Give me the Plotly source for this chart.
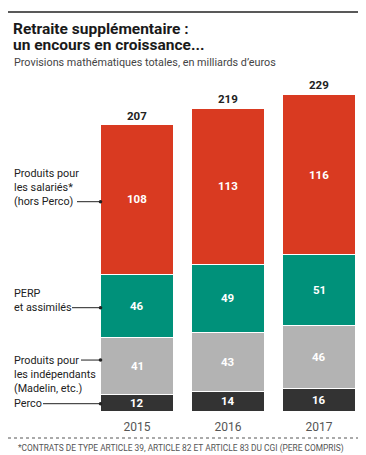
import plotly.graph_objects as go

years = ["2015", "2016", "2017"]
perco = [12, 14, 16]
independants = [41, 43, 46]
perp = [46, 49, 51]
salaries = [108, 113, 116]
totals = [207, 219, 229]

series = [
    ("Perco", perco, "#333333"),
    ("Produits pour les indépendants", independants, "#b3b3b3"),
    ("PERP et assimilés", perp, "#00917a"),
    ("Produits pour les salariés", salaries, "#d93a21"),
]

left_labels = [
    "Perco",
    "Produits pour<br>les indépendants<br>(Madelin, etc.)",
    "PERP<br>et assimilés",
    "Produits pour<br>les salariés*<br>(hors Perco)",
]

# page body has an 8px margin: size the figure to the visible area
OFF = 8
W, H = 366 - OFF, 455 - OFF
MT, MB = 80 - OFF, 455 - 411
PH = H - MT - MB
FONT = "Roboto"
xs = [0, 1, 2]
SCALE = 1.383  # px per unit


def px(p):
    return (p - OFF) / W


def py(p):
    return (H - MB - (p - OFF)) / PH


fig = go.Figure()
for name, vals, col in series:
    fig.add_trace(go.Bar(
        x=xs, y=vals, name=name, width=0.8,
        marker=dict(color=col, line=dict(color="white", width=1)),
        hoverinfo="skip", showlegend=False,
    ))

# segment labels
base = [0, 0, 0]
mids_2015 = []
for name, vals, col in series:
    for i in range(3):
        mid = base[i] + vals[i] / 2
        fig.add_annotation(x=xs[i], y=mid, text=f"<b>{vals[i]}</b>", showarrow=False,
                           font=dict(family=FONT, size=11.5, color="white"))
    mids_2015.append(base[0] + vals[0] / 2)
    base = [base[i] + vals[i] for i in range(3)]

# totals
for i in range(3):
    fig.add_annotation(x=xs[i], y=totals[i], text=f"<b>{totals[i]}</b>", showarrow=False,
                       yanchor="bottom", yshift=0,
                       font=dict(family=FONT, size=11.5, color="#222"))

# left labels with leader lines
LS = 14.0  # line spacing of the labels
line_start_px = [43, 81, 72, 77]
line_off_px = [-1, 6, -1.8, -2.3]
text_shift = [line_off_px[0], line_off_px[1] - LS, line_off_px[2] + LS / 2, line_off_px[3] + LS]
for k in range(4):
    yv = mids_2015[k]
    fig.add_shape(type="line", xref="paper", yref="y", ysizemode="pixel", yanchor=yv,
                  x0=px(line_start_px[k]), x1=px(100.5), y0=line_off_px[k], y1=line_off_px[k],
                  line=dict(color="#222", width=1))
    fig.add_shape(type="circle", xref="paper", yref="y", ysizemode="pixel", xsizemode="pixel",
                  xanchor=px(100.5), yanchor=yv,
                  x0=-1.8, x1=1.8, y0=line_off_px[k] - 1.8, y1=line_off_px[k] + 1.8,
                  fillcolor="#222", line=dict(width=0))
    fig.add_annotation(xref="paper", yref="y", x=px(12), y=yv, xanchor="left", yanchor="middle",
                       yshift=text_shift[k], text=left_labels[k], align="left", showarrow=False,
                       font=dict(family=FONT, size=10.8, color="#222"))

# top rule
fig.add_shape(type="line", xref="paper", yref="paper", x0=px(8), x1=1, y0=py(12), y1=py(12),
              line=dict(color="#222", width=1.5))
# title
fig.add_annotation(xref="paper", yref="paper", x=px(12), y=py(29), xanchor="left", yanchor="middle",
                   text="<b>Retraite supplémentaire :</b>", showarrow=False, borderpad=0,
                   font=dict(family=FONT, size=15.5, color="#1a1a1a"))
fig.add_annotation(xref="paper", yref="paper", x=px(12), y=py(45), xanchor="left", yanchor="middle",
                   text="<b>un encours en croissance...</b>", showarrow=False, borderpad=0,
                   font=dict(family=FONT, size=15.5, color="#1a1a1a"))
fig.add_annotation(xref="paper", yref="paper", x=px(12), y=py(62), xanchor="left", yanchor="middle",
                   text="Provisions mathématiques totales, en milliards d’euros", showarrow=False,
                   font=dict(family=FONT, size=10.8, color="#444"))
# footnote
fig.add_shape(type="line", xref="paper", yref="paper", x0=px(8), x1=1, y0=py(438), y1=py(438),
              line=dict(color="#555", width=1, dash="dot"))
fig.add_annotation(xref="paper", yref="paper", x=px(16), y=py(448), xanchor="left", yanchor="middle",
                   text="*CONTRATS DE TYPE ARTICLE 39, ARTICLE 82 ET ARTICLE 83 DU CGI (PERE COMPRIS)",
                   showarrow=False, font=dict(family=FONT, size=8.4, color="#555"))

pitch = 91.0
c0 = 137 - OFF
fig.update_layout(
    width=W, height=H,
    margin=dict(l=0, r=0, t=MT, b=MB, pad=0),
    barmode="stack", bargap=0.2,
    plot_bgcolor="white", paper_bgcolor="white",
    xaxis=dict(range=[-c0 / pitch, (W - c0) / pitch], tickvals=xs, ticktext=years,
               showgrid=False, zeroline=False, showline=False, ticks="",
               ticklabelstandoff=7,
               tickfont=dict(family=FONT, size=12, color="#555")),
    yaxis=dict(range=[0, PH / SCALE], visible=False),
    showlegend=False,
)
fig.write_html("out.html")
